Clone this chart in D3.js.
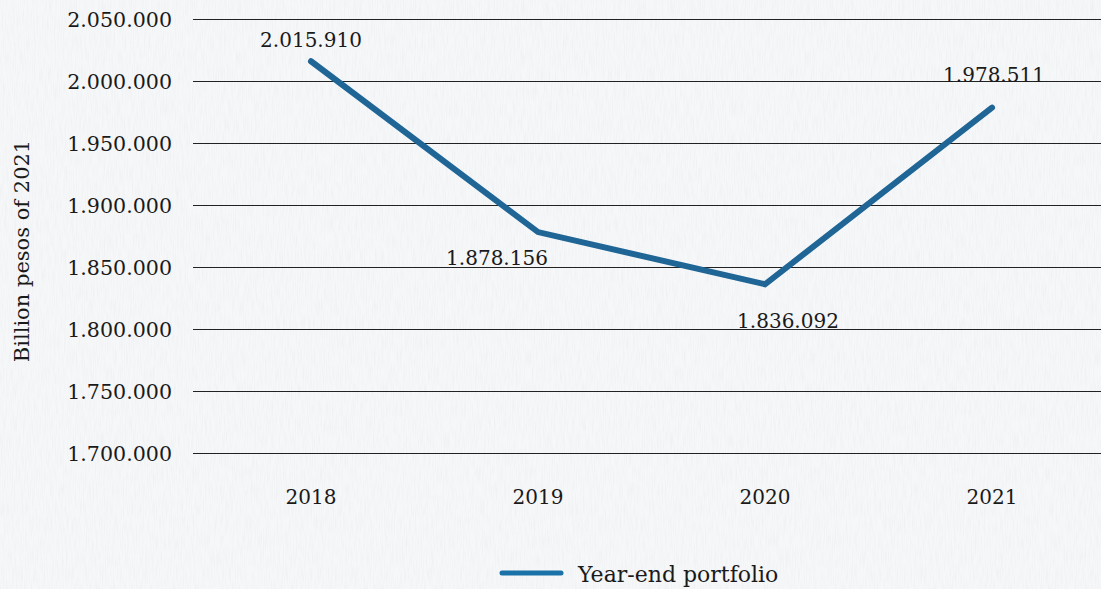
<!DOCTYPE html>
<html>
<head>
<meta charset="utf-8">
<script src="https://cdn.jsdelivr.net/npm/d3@7"></script>
<style>
  html, body { margin: 0; padding: 0; background: #f2f3f5; }
  svg { display: block; }
  text { font-family: "DejaVu Serif", serif; fill: #1a1a1a; }
</style>
</head>
<body>
<svg id="chart" width="1101" height="589"></svg>
<script>
const years = ["2018", "2019", "2020", "2021"];
const portfolio = [2015910, 1878156, 1836092, 1978511];
const valueLabels = ["2.015.910", "1.878.156", "1.836.092", "1.978.511"];
const yTicks = [1700000, 1750000, 1800000, 1850000, 1900000, 1950000, 2000000, 2050000];
const seriesName = "Year-end portfolio";
const yTitle = "Billion pesos of 2021";

const svg = d3.select("#chart");
const W = 1101, H = 589;

// background texture (subtle)
const defs = svg.append("defs");
const f = defs.append("filter").attr("id", "paper").attr("x", 0).attr("y", 0).attr("width", "100%").attr("height", "100%");
f.append("feTurbulence").attr("type", "fractalNoise").attr("baseFrequency", "0.9 0.06").attr("numOctaves", 2).attr("seed", 3).attr("result", "n");
f.append("feColorMatrix").attr("in", "n").attr("type", "matrix")
  .attr("values", "0 0 0 0 0.55  0 0 0 0 0.57  0 0 0 0 0.6  0 0 0 -0.9 0.55");
svg.append("rect").attr("width", W).attr("height", H).attr("fill", "#f6f7f8");
svg.append("rect").attr("width", W).attr("height", H).attr("filter", "url(#paper)").attr("opacity", 0.3);

const x = d3.scaleBand().domain(years).range([197.5, 1105.5]);
const y = d3.scaleLinear().domain([1700000, 2050000]).range([453, 19]);
const fmt = d => d3.format(",")(d).replace(/,/g, ".");

// gridlines
svg.append("g").selectAll("line").data(yTicks).join("line")
  .attr("x1", 193).attr("x2", W)
  .attr("y1", d => Math.round(y(d)) + 0.5).attr("y2", d => Math.round(y(d)) + 0.5)
  .attr("stroke", "#222").attr("stroke-width", 1);

// y axis
const yAxis = svg.append("g").attr("transform", "translate(172,0)")
  .call(d3.axisLeft(y).tickValues(yTicks).tickFormat(fmt).tickSize(0).tickPadding(0));
yAxis.select(".domain").remove();
yAxis.selectAll("text").attr("font-size", 20.6).attr("font-family", "DejaVu Serif").attr("fill", "#1a1a1a").attr("dy", "0.35em");

// x axis
const xAxis = svg.append("g").attr("transform", "translate(0,485)")
  .call(d3.axisBottom(x).tickSize(0).tickPadding(0));
xAxis.select(".domain").remove();
xAxis.selectAll("text").attr("font-size", 20).attr("font-family", "DejaVu Serif").attr("fill", "#1a1a1a").attr("dy", "0.95em");

// y title
svg.append("text")
  .attr("transform", "translate(29,251) rotate(-90)")
  .attr("text-anchor", "middle").attr("font-size", 21)
  .text(yTitle);

// line
const cx = d => x(d) + x.bandwidth() / 2;
const line = d3.line().x((d, i) => cx(years[i])).y(d => y(d));
svg.append("path").datum(portfolio)
  .attr("d", line)
  .attr("fill", "none").attr("stroke", "#1f6596").attr("stroke-width", 6)
  .attr("stroke-linecap", "round").attr("stroke-linejoin", "miter");

// data labels
const offsets = [[0, -14], [-41, 33], [23, 44], [2, -26]];
svg.append("g").selectAll("text").data(portfolio).join("text")
  .attr("x", (d, i) => cx(years[i]) + offsets[i][0])
  .attr("y", (d, i) => y(d) + offsets[i][1])
  .attr("text-anchor", "middle").attr("font-size", 20)
  .text((d, i) => valueLabels[i]);

// legend
const lg = svg.append("g");
lg.append("line").attr("x1", 502).attr("x2", 561).attr("y1", 573).attr("y2", 573)
  .attr("stroke", "#1a72a8").attr("stroke-width", 5).attr("stroke-linecap", "round");
lg.append("text").attr("x", 578).attr("y", 582).attr("font-size", 22).text(seriesName);
</script>
</body>
</html>
